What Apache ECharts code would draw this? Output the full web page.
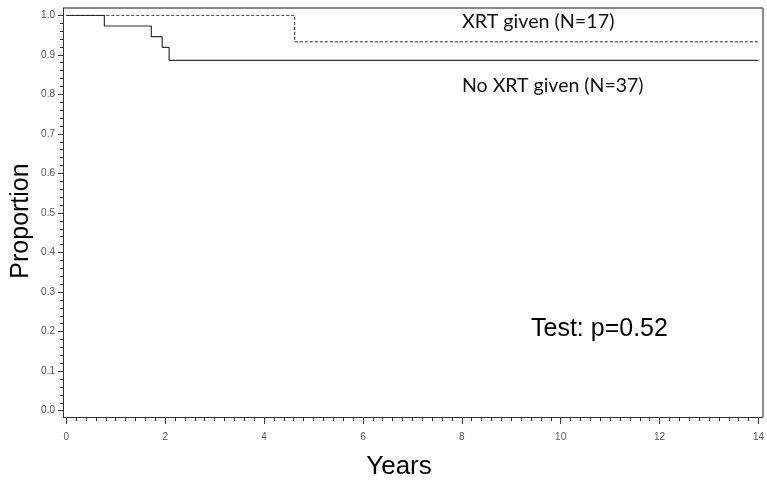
<!DOCTYPE html>
<html>
<head>
<meta charset="utf-8">
<script src="https://cdn.jsdelivr.net/npm/echarts@6/dist/echarts.min.js"></script>
<style>
html,body{margin:0;padding:0;background:#fff;}
#chart{width:767px;height:487px;}
</style>
</head>
<body>
<div id="chart"></div>
<script>
// Kaplan-Meier step data
var noXrtTimes = [0, 0.77, 1.72, 1.94, 2.08, 14];
var noXrtSurv  = [1.0, 0.973, 0.946, 0.919, 0.886, 0.886];
var xrtTimes   = [0, 4.62, 14];
var xrtSurv    = [1.0, 0.933, 0.933];

var xTicks = [0, 2, 4, 6, 8, 10, 12, 14];
var yTicks = [0.0, 0.1, 0.2, 0.3, 0.4, 0.5, 0.6, 0.7, 0.8, 0.9, 1.0];

var labelXrt = 'XRT given (N=17)';
var labelNoXrt = 'No XRT given (N=37)';
var testLabel = 'Test: p=0.52';
var xTitle = 'Years';
var yTitle = 'Proportion';

function pairs(xs, ys) { return xs.map(function (x, i) { return [x, ys[i]]; }); }

var chart = echarts.init(document.getElementById('chart'), null, {renderer: 'canvas'});
var tickFont = {fontFamily: 'Liberation Sans, Arial, sans-serif', fontSize: 10, color: '#555'};

// plot frame (box around data area)
var fL = 63, fT = 8, fR = 763, fB = 417;

chart.setOption({
  animation: false,
  backgroundColor: '#fff',
  grid: {left: 66.3, right: 6.5, top: 15.3, bottom: 76.3, containLabel: false},
  xAxis: [{
    type: 'value', min: xTicks[0], max: xTicks[xTicks.length - 1], interval: 2,
    position: 'bottom', offset: 6.3,
    axisLine: {show: false, onZero: false},
    axisTick: {show: true, inside: false, length: 7, lineStyle: {color: '#333'}},
    minorTick: {show: true, splitNumber: 10, length: 4, lineStyle: {color: '#333'}},
    splitLine: {show: false},
    axisLabel: Object.assign({margin: 15}, tickFont)
  }],
  yAxis: [{
    type: 'value', min: yTicks[0], max: yTicks[yTicks.length - 1], interval: 0.1,
    position: 'left', offset: 3.3,
    axisLine: {show: false, onZero: false},
    axisTick: {show: true, inside: false, length: 5, lineStyle: {color: '#333'}},
    minorTick: {show: true, splitNumber: 5, length: 3, lineStyle: {color: '#333'}},
    splitLine: {show: false},
    axisLabel: Object.assign({margin: 8, formatter: function (v) { return v.toFixed(1); }}, tickFont)
  }],
  series: [{
    name: labelNoXrt, type: 'line', step: 'end',
    data: pairs(noXrtTimes, noXrtSurv), showSymbol: false, symbol: 'none',
    lineStyle: {color: '#333', width: 1.2, type: 'solid'}
  }, {
    name: labelXrt, type: 'line', step: 'end',
    data: pairs(xrtTimes, xrtSurv), showSymbol: false, symbol: 'none',
    lineStyle: {color: '#222', width: 1, type: [3, 2]}
  }],
  graphic: [
    {type: 'line', shape: {x1: fL, y1: fT, x2: fR, y2: fT}, style: {stroke: '#888', lineWidth: 2}},
    {type: 'line', shape: {x1: fR, y1: fT, x2: fR, y2: fB}, style: {stroke: '#888', lineWidth: 2}},
    {type: 'line', shape: {x1: fL + 0.5, y1: fT, x2: fL + 0.5, y2: fB}, style: {stroke: '#333', lineWidth: 1}},
    {type: 'line', shape: {x1: fL, y1: fB + 0.5, x2: fR, y2: fB + 0.5}, style: {stroke: '#333', lineWidth: 1}},
    {type: 'text', left: 462, top: 12, style: {text: labelXrt, font: '19.7px Lato, "Open Sans", sans-serif', fill: '#111'}},
    {type: 'text', left: 462, top: 76, style: {text: labelNoXrt, font: '19.5px Lato, "Open Sans", sans-serif', fill: '#111'}},
    {type: 'text', left: 531, top: 317, style: {text: testLabel, font: '25px "Liberation Sans", Arial, sans-serif', fill: '#000'}},
    {type: 'text', x: 399, y: 467, style: {text: xTitle, font: '26px "Liberation Sans", Arial, sans-serif', fill: '#000', align: 'center', verticalAlign: 'middle'}},
    {type: 'text', x: 21, y: 221, rotation: Math.PI / 2, style: {text: yTitle, font: '25px "Liberation Sans", Arial, sans-serif', fill: '#000', align: 'center', verticalAlign: 'middle'}}
  ]
});
</script>
</body>
</html>
